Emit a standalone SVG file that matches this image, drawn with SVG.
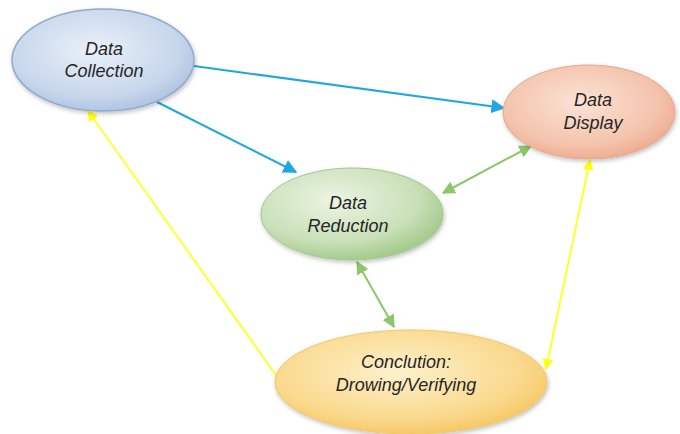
<svg xmlns="http://www.w3.org/2000/svg" width="680" height="434" viewBox="0 0 680 434">
<style>
.lbl{font-family:"Liberation Sans",Arial,sans-serif;font-style:italic;font-size:18px;fill:#262626;text-anchor:middle}
.blue{stroke:#22a6df;stroke-width:2;fill:none}
.green{stroke:#8cc66a;stroke-width:2;fill:none}
.yellow{stroke:#ffff30;stroke-width:2;fill:none}
</style>
<defs>
<radialGradient id="gBlue" cx="0.45" cy="0.4" r="0.65"><stop offset="0" stop-color="#eaf0f8"/><stop offset="0.7" stop-color="#c8d7ec"/><stop offset="1" stop-color="#a9c0e0"/></radialGradient>
<radialGradient id="gPeach" cx="0.45" cy="0.4" r="0.65"><stop offset="0" stop-color="#fbe3d6"/><stop offset="0.7" stop-color="#f4c3ab"/><stop offset="1" stop-color="#eba78a"/></radialGradient>
<radialGradient id="gGreen" cx="0.4" cy="0.35" r="0.65"><stop offset="0" stop-color="#ecf4e4"/><stop offset="0.7" stop-color="#c9e0b8"/><stop offset="1" stop-color="#a6cb8f"/></radialGradient>
<radialGradient id="gYellow" cx="0.45" cy="0.4" r="0.65"><stop offset="0" stop-color="#fdf1cc"/><stop offset="0.7" stop-color="#fad98d"/><stop offset="1" stop-color="#f5c45c"/></radialGradient>
<filter id="sh" x="-10%" y="-10%" width="120%" height="130%"><feDropShadow dx="1" dy="2" stdDeviation="2" flood-color="#000" flood-opacity="0.25"/></filter>
<marker id="aGreen" viewBox="0 0 10 10" refX="9" refY="5" markerWidth="13" markerHeight="13" orient="auto-start-reverse" markerUnits="userSpaceOnUse"><path d="M0,0 L10,5 L0,10 z" fill="#8cc66a"/></marker>
<marker id="aYellow" viewBox="0 0 10 10" refX="9" refY="5" markerWidth="11" markerHeight="11" orient="auto-start-reverse" markerUnits="userSpaceOnUse"><path d="M0,0 L10,5 L0,10 z" fill="#ffff10"/></marker>
<marker id="aBlueL" viewBox="0 0 10 10" refX="9" refY="5" markerWidth="14" markerHeight="14" orient="auto" markerUnits="userSpaceOnUse"><path d="M0,0 L10,5 L0,10 z" fill="#22a6df"/></marker>
</defs>
<rect width="680" height="434" fill="#ffffff"/>
<g id="connectors">
<line class="blue" x1="194" y1="66" x2="504" y2="108" marker-end="url(#aBlueL)"/>
<line class="blue" x1="157" y1="102" x2="296" y2="172" marker-end="url(#aBlueL)"/>
<line class="green" x1="443" y1="193" x2="531" y2="146" marker-start="url(#aGreen)" marker-end="url(#aGreen)"/>
<line class="green" x1="357" y1="262" x2="394" y2="327" marker-start="url(#aGreen)" marker-end="url(#aGreen)"/>
<line class="yellow" x1="278" y1="378" x2="88" y2="111" marker-end="url(#aYellow)"/>
<line class="yellow" x1="546" y1="369" x2="590" y2="160" marker-start="url(#aYellow)" marker-end="url(#aYellow)"/>
</g>
<g id="data-collection">
<ellipse cx="103" cy="60" rx="91" ry="51" fill="url(#gBlue)" stroke="#8fa9cf" stroke-width="1.5" filter="url(#sh)"/>
<text class="lbl" x="104" y="55">Data</text>
<text class="lbl" x="104" y="77">Collection</text>
</g>
<g id="data-display">
<ellipse cx="589" cy="112" rx="86" ry="47" fill="url(#gPeach)" stroke="#e7a58a" stroke-width="1" filter="url(#sh)"/>
<text class="lbl" x="593" y="106">Data</text>
<text class="lbl" x="593" y="129">Display</text>
</g>
<g id="data-reduction">
<ellipse cx="352" cy="214" rx="91" ry="46" fill="url(#gGreen)" stroke="#a2c78d" stroke-width="1" filter="url(#sh)"/>
<text class="lbl" x="348" y="209">Data</text>
<text class="lbl" x="348" y="232">Reduction</text>
</g>
<g id="conclusion">
<ellipse cx="411" cy="382" rx="136" ry="52" fill="url(#gYellow)" stroke="#f2c66a" stroke-width="1" filter="url(#sh)"/>
<text class="lbl" x="406" y="368">Conclution:</text>
<text class="lbl" x="406" y="391">Drowing/Verifying</text>
</g>
</svg>
